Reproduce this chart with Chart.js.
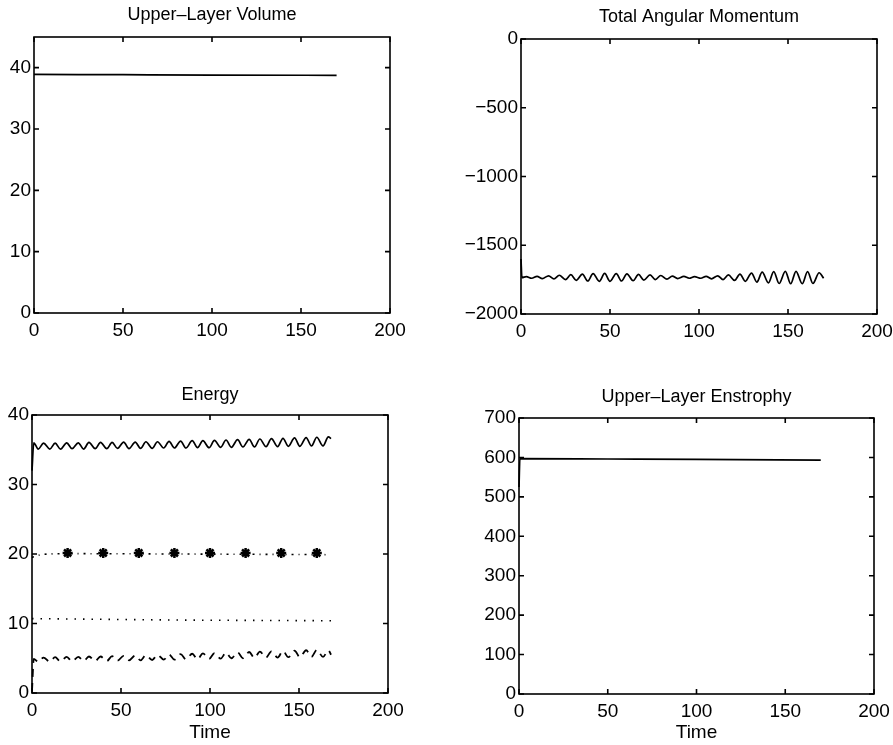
<!DOCTYPE html>
<html>
<head>
<meta charset="utf-8">
<script src="https://cdn.jsdelivr.net/npm/chart.js@4/dist/chart.umd.min.js"></script>
<style>
body { margin: 0; background: #fff; width: 893px; height: 745px; position: relative; overflow: hidden; }
canvas { position: absolute; }
</style>
</head>
<body>
<canvas id="volume" width="440" height="345" style="left:0px;top:0px"></canvas>
<canvas id="momentum" width="490" height="345" style="left:440px;top:0px"></canvas>
<canvas id="energy" width="440" height="375" style="left:0px;top:370px"></canvas>
<canvas id="enstrophy" width="490" height="375" style="left:440px;top:370px"></canvas>
<script>
var FONT = "'Liberation Sans', Arial, Helvetica, sans-serif";
var TITLE_SIZE = 18;
var TICK_SIZE = 19;

// tick labels
var xTicks = [0, 50, 100, 150, 200];
var volumeTicks = [0, 10, 20, 30, 40];
var momentumTicks = [-2000, -1500, -1000, -500, 0];
var energyTicks = [0, 10, 20, 30, 40];
var enstrophyTicks = [0, 100, 200, 300, 400, 500, 600, 700];

// axis ranges
var volumeRange = [0, 45];
var momentumRange = [-2000, 0];
var energyRange = [0, 40];
var enstrophyRange = [0, 700];

// upper-layer volume
var volumeT = [0, 50, 100, 170];
var volumeV = [38.9, 38.85, 38.8, 38.75];

// total angular momentum (read at the crests and troughs)
var momentumT = [0, 0.5, 3, 6, 9, 12, 15.5, 18.5, 21.5, 25, 28, 31, 34.5, 37.5, 40.5, 44, 47, 50, 53.5, 56.5,
	59.5, 63, 66, 69, 72.5, 75.5, 78.5, 82, 85, 88, 91.5, 94.5, 97.5, 101, 104, 107, 110.5, 113.5, 116.5, 120,
	123, 126, 129.5, 132.5, 135.5, 139, 142, 145, 148.5, 151.5, 154.5, 158, 161, 164, 167.5, 170];
var momentumV = [-1600, -1735, -1728, -1740, -1726, -1742, -1722, -1745, -1718, -1750, -1714, -1755, -1710, -1760, -1706, -1762, -1705, -1762, -1706, -1760,
	-1708, -1758, -1712, -1754, -1716, -1750, -1720, -1746, -1724, -1742, -1727, -1740, -1728, -1740, -1726, -1744, -1722, -1750, -1716, -1756,
	-1710, -1762, -1702, -1768, -1696, -1774, -1692, -1778, -1690, -1780, -1690, -1780, -1692, -1778, -1700, -1740];

// energy curves
var energyT = [0, 1, 3.5, 6.5, 10, 13, 16, 19.5, 22.5, 26, 29, 32, 35.5, 38.5, 42, 45, 48, 51.5, 54.5, 58,
	61, 64, 67.5, 70.5, 74, 77, 80, 83.5, 86.5, 90, 93, 96, 99.5, 102.5, 106, 109, 112, 115.5, 118.5, 122,
	125, 128, 131.5, 134.5, 138, 141, 144, 147.5, 150.5, 154, 157, 160, 163.5, 166.5, 168];
var totalEnergy = [32.0, 36.0, 35.1, 35.95, 35.1, 35.95, 35.1, 36.0, 35.15, 36.0, 35.1, 36.05, 35.15, 36.05, 35.15, 36.05, 35.2, 36.1, 35.15, 36.1,
	35.2, 36.15, 35.2, 36.15, 35.25, 36.2, 35.25, 36.25, 35.25, 36.3, 35.3, 36.3, 35.3, 36.35, 35.35, 36.4, 35.35, 36.45, 35.4, 36.5,
	35.4, 36.55, 35.45, 36.6, 35.45, 36.65, 35.5, 36.7, 35.5, 36.75, 35.55, 36.8, 35.55, 36.85, 36.6];
var lowerEnergy = [0.3, 4.9, 4.5, 5.1, 4.5, 5.15, 4.55, 5.2, 4.55, 5.2, 4.6, 5.25, 4.6, 5.25, 4.6, 5.3, 4.65, 5.35, 4.7, 5.4,
	4.7, 5.45, 4.75, 5.5, 4.8, 5.55, 4.8, 5.6, 4.85, 5.65, 4.85, 5.7, 4.9, 5.75, 4.95, 5.8, 5.0, 5.85, 5.0, 5.9,
	5.05, 5.95, 5.1, 6.0, 5.1, 6.05, 5.15, 6.1, 5.15, 6.15, 5.2, 6.2, 5.2, 6.15, 5.5];
var kineticT = [0, 5, 20, 80, 130, 167];
var kineticV = [19.5, 19.9, 20.05, 20.0, 19.95, 19.9];
var markerT = [20, 40, 60, 80, 100, 120, 140, 160];
var markerV = [20.15, 20.15, 20.15, 20.15, 20.15, 20.15, 20.15, 20.15];
var potentialT = [0, 40, 80, 120, 168];
var potentialV = [10.7, 10.6, 10.5, 10.45, 10.4];

// upper-layer enstrophy
var enstrophyT = [0, 0.5, 50, 100, 170];
var enstrophyV = [525, 597, 596, 595, 593];

function toPoints(ts, vs){
	var pts = [];
	for (var i = 0; i < ts.length; i++){
		pts.push({x: ts[i], y: vs[i]});
	};
	return pts;
};

function lineSet(ts, vs, dash, width){
	return {
		data: toPoints(ts, vs),
		borderColor: '#000',
		borderWidth: width || 1.7,
		borderDash: dash || [],
		pointRadius: 0,
		cubicInterpolationMode: 'monotone',
		clip: false
	};
};

// framed box with inward tick marks on all four sides
var boxPlugin = {
	id: 'matlabBox',
	afterDraw: function(chart){
		var ctx = chart.ctx, a = chart.chartArea;
		var xs = chart.scales.x, ys = chart.scales.y;
		ctx.save();
		ctx.strokeStyle = '#000';
		ctx.lineWidth = 1.6;
		ctx.strokeRect(a.left, a.top, a.right - a.left, a.bottom - a.top);
		ctx.beginPath();
		xs.ticks.forEach(function(t){
			var px = xs.getPixelForValue(t.value);
			ctx.moveTo(px, a.bottom); ctx.lineTo(px, a.bottom - 5);
			ctx.moveTo(px, a.top); ctx.lineTo(px, a.top + 5);
		});
		ys.ticks.forEach(function(t){
			var py = ys.getPixelForValue(t.value);
			ctx.moveTo(a.left, py); ctx.lineTo(a.left + 5, py);
			ctx.moveTo(a.right, py); ctx.lineTo(a.right - 5, py);
		});
		ctx.stroke();
		ctx.restore();
	}
};

function makePanel(id, title, yRange, yTicks, datasets, box, showTime){
	var canvas = document.getElementById(id);
	var context = canvas.getContext('2d');
	var W = canvas.width, H = canvas.height;
	var half = TITLE_SIZE * 1.2 / 2;

	return new Chart(context, {
		type: 'line',
		data: { datasets: datasets },
		options: {
			responsive: false,
			animation: false,
			devicePixelRatio: 1,
			layout: { padding: { left: 0, top: 0, right: W - box.right, bottom: 0 } },
			plugins: {
				legend: { display: false },
				tooltip: { enabled: false },
				title: {
					display: true, text: title, fullSize: false, color: '#000',
					font: { family: FONT, size: TITLE_SIZE, weight: 'normal' },
					padding: { top: box.titleY - half, bottom: box.top - box.titleY - half }
				}
			},
			scales: {
				x: {
					type: 'linear', min: 0, max: 200,
					grid: { display: false, drawTicks: false }, border: { display: false },
					ticks: { color: '#000', font: { family: FONT, size: TICK_SIZE }, padding: 6, maxRotation: 0 },
					afterBuildTicks: function(s){ s.ticks = xTicks.map(function(v){ return {value: v}; }); },
					afterFit: function(s){ s.height = H - box.bottom; },
					title: { display: showTime, text: 'Time', color: '#000', font: { family: FONT, size: 19 }, padding: { top: 0, bottom: 1 } }
				},
				y: {
					type: 'linear', min: yRange[0], max: yRange[1],
					grid: { display: false, drawTicks: false }, border: { display: false },
					ticks: {
						color: '#000', font: { family: FONT, size: TICK_SIZE }, padding: 3,
						callback: function(v){ return String(v).replace('-', '\u2212'); }
					},
					afterBuildTicks: function(s){ s.ticks = yTicks.map(function(v){ return {value: v}; }); },
					afterFit: function(s){ s.width = box.left; }
				}
			}
		},
		plugins: [boxPlugin]
	});
};

makePanel('volume', 'Upper\u2013Layer Volume', volumeRange, volumeTicks,
	[lineSet(volumeT, volumeV)],
	{left: 34, top: 37, right: 390, bottom: 313, titleY: 15}, false);

makePanel('momentum', 'Total Angular Momentum', momentumRange, momentumTicks,
	[lineSet(momentumT, momentumV)],
	{left: 81, top: 39, right: 437, bottom: 314, titleY: 17}, false);

makePanel('energy', 'Energy', energyRange, energyTicks,
	[
		lineSet(energyT, totalEnergy),
		lineSet(kineticT, kineticV, [2, 5, 1, 5], 1.6),
		{
			data: toPoints(markerT, markerV), showLine: false,
			pointStyle: 'star', pointRadius: 5, pointBorderWidth: 2.5,
			pointBorderColor: '#000', pointBackgroundColor: '#000'
		},
		lineSet(potentialT, potentialV, [1.5, 7], 1.6),
		lineSet(energyT, lowerEnergy, [8, 6], 1.8)
	],
	{left: 32, top: 45, right: 388, bottom: 323, titleY: 25}, true);

makePanel('enstrophy', 'Upper\u2013Layer Enstrophy', enstrophyRange, enstrophyTicks,
	[lineSet(enstrophyT, enstrophyV)],
	{left: 79, top: 48, right: 434, bottom: 324, titleY: 27}, true);
</script>
</body>
</html>
